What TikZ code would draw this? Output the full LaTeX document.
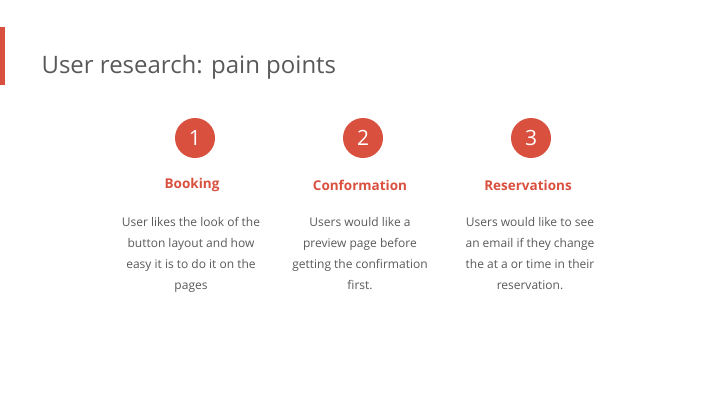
\documentclass[tikz,border=0pt]{standalone}
\usepackage{fontspec}
\setmainfont{Open Sans}
\definecolor{accent}{HTML}{D9503F}
\definecolor{txt}{HTML}{595959}
\begin{document}
\begin{tikzpicture}[x=1pt,y=-1pt,
  num/.style={circle,fill=accent,minimum size=40pt,inner sep=0,text=white,font=\fontsize{21}{21}\selectfont},
  head/.style={text=accent,font=\bfseries\fontsize{13.5}{15}\selectfont},
  body/.style={text=txt,align=center,font=\fontsize{12}{21}\selectfont}]
\useasboundingbox (0,0) rectangle (720,405);
\fill[accent] (0,27) rectangle (5,85);
\node[anchor=west,text=txt,font=\fontsize{24}{28}\selectfont] (title) at (38,67) {User research: pain points};
\node[num] (n1) at (195,138) {1};
\node[num] (n2) at (363,138) {2};
\node[num] (n3) at (531,138) {3};
\node[head] (h1) at (192,185) {Booking};
\node[head] (h2) at (360,185) {Conformation};
\node[head] (h3) at (528,185) {Reservations};
\node[body,anchor=north] (b1) at (191,214) {User likes the look of the\\button layout and how\\easy it is to do it on the\\pages};
\node[body,anchor=north] (b2) at (360,214) {Users would like a\\preview page before\\getting the confirmation\\first.};
\node[body,anchor=north] (b3) at (530,214) {Users would like to see\\an email if they change\\the at a or time in their\\reservation.};
\end{tikzpicture}
\end{document}
